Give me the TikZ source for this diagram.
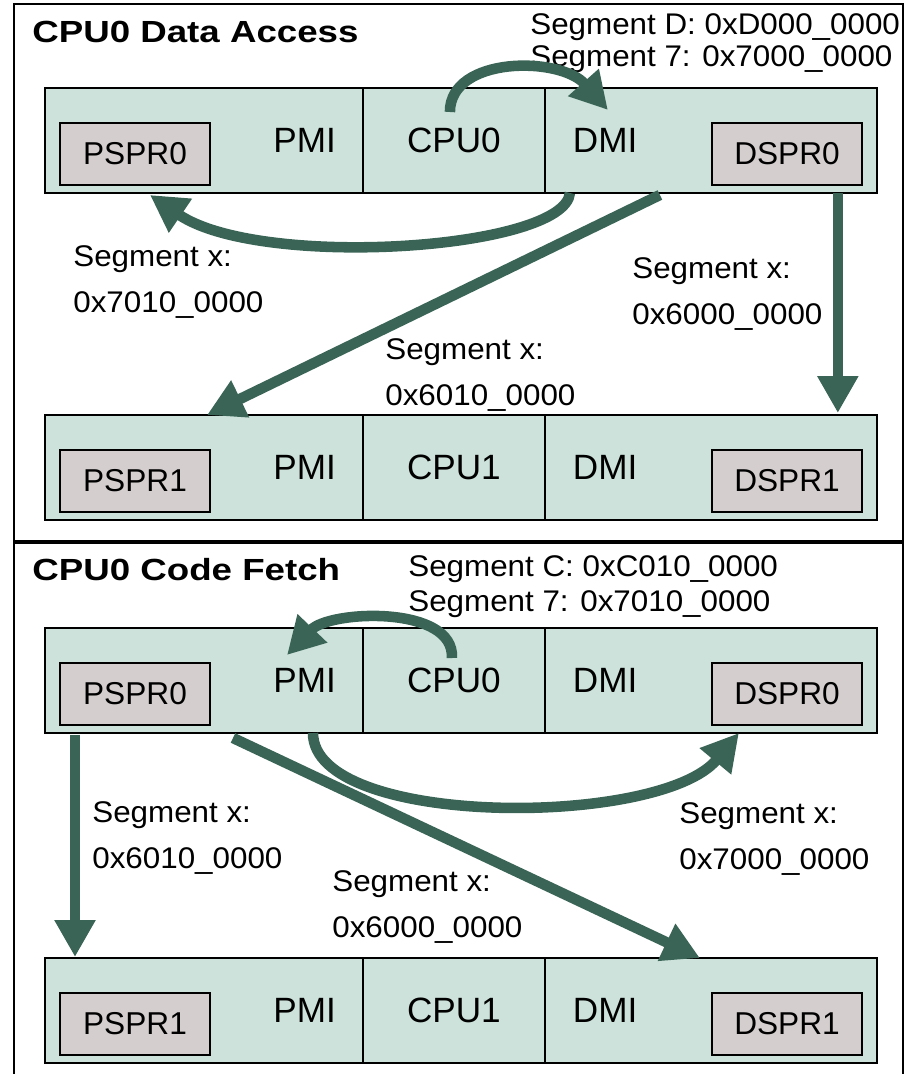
\documentclass[tikz,border=0pt]{standalone}
\usepackage{fontspec}
\setmainfont{Liberation Sans}
\newfontfamily\segfont{Liberation Sans}[FakeStretch=1.05]
\newfontfamily\headfont{Liberation Sans}[FakeStretch=1.2]
\usepackage{xcolor}
\usepackage{tikz}
\usetikzlibrary{arrows.meta, calc}

\definecolor{cellfill}{RGB}{204,226,218}
\definecolor{sprfill}{RGB}{212,206,206}
\definecolor{arrowgreen}{RGB}{58,101,86}

\begin{document}
\begin{tikzpicture}[x=0.02cm, y=-0.02cm,
    cell/.style={draw, line width=1.2pt, fill=cellfill, minimum height=2.1cm, inner ysep=0pt,
                 outer sep=0pt, anchor=north west, font=\fontsize{20}{24}\selectfont},
    pmicell/.style={cell, text width=5.28cm, inner xsep=0.54cm, align=right},
    cpucell/.style={cell, minimum width=3.64cm, inner xsep=0pt},
    dmicell/.style={cell, text width=5.52cm, inner xsep=0.56cm, align=left},
    spr/.style={draw, line width=1.1pt, fill=sprfill, minimum width=3cm, minimum height=1.24cm,
                inner sep=0pt, font=\fontsize{18}{22}\selectfont},
    paneltitle/.style={anchor=base west, inner sep=0pt, font=\headfont\bfseries\fontsize{17.4}{21}\selectfont},
    seglbl/.style={anchor=north west, inner sep=0pt, align=left, font=\segfont\fontsize{17}{26.2}\selectfont},
    arr/.style={-{Triangle[length=21pt, width=22pt]}, line width=6pt, draw=arrowgreen}
]
\useasboundingbox (0,0) rectangle (912,1074);

% Frame
\draw[line width=1.2pt] (14,1074) -- (14,4) -- (903,4) -- (903,1074);
\draw[line width=2.4pt] (14,542) -- (903,542);

% CPU0 data access
\node[paneltitle] (titleA) at (32,43) {CPU0 Data Access};
\node[seglbl] (segA) at (530,13) {Segment D: 0xD000\_0000\\[-8pt]Segment 7: 0x7000\_0000};

\node[pmicell] (pmiA) at (45,88) {PMI};
\node[cpucell] (cpuA) at (pmiA.north east) {CPU0};
\node[dmicell] (dmiA) at (cpuA.north east) {DMI};
\node[spr] (psprA) at (135,154) {PSPR0};
\node[spr] (dsprA) at (787,154) {DSPR0};

\node[pmicell] (pmiB) at (45,415) {PMI};
\node[cpucell] (cpuB) at (pmiB.north east) {CPU1};
\node[dmicell] (dmiB) at (cpuB.north east) {DMI};
\node[spr] (psprB) at (135,481) {PSPR1};
\node[spr] (dsprB) at (787,481) {DSPR1};

\node[seglbl] (lblA1) at (73,245) {Segment x:\\0x7010\_0000};
\node[seglbl] (lblA2) at (632,257) {Segment x:\\0x6000\_0000};
\node[seglbl] (lblA3) at (385,338) {Segment x:\\0x6010\_0000};

% CPU0 code fetch
\node[paneltitle] (titleC) at (32,580) {CPU0 Code Fetch};
\node[seglbl] (segC) at (408,555) {Segment C: 0xC010\_0000\\[-6.3pt]Segment 7: 0x7010\_0000};

\node[pmicell] (pmiC) at (45,628) {PMI};
\node[cpucell] (cpuC) at (pmiC.north east) {CPU0};
\node[dmicell] (dmiC) at (cpuC.north east) {DMI};
\node[spr] (psprC) at (135,694) {PSPR0};
\node[spr] (dsprC) at (787,694) {DSPR0};

\node[pmicell] (pmiD) at (45,958) {PMI};
\node[cpucell] (cpuD) at (pmiD.north east) {CPU1};
\node[dmicell] (dmiD) at (cpuD.north east) {DMI};
\node[spr] (psprD) at (135,1024) {PSPR1};
\node[spr] (dsprD) at (787,1024) {DSPR1};

\node[seglbl] (lblC1) at (92,801) {Segment x:\\0x6010\_0000};
\node[seglbl] (lblC2) at (332,870) {Segment x:\\0x6000\_0000};
\node[seglbl] (lblC3) at (679,802) {Segment x:\\0x7000\_0000};

% Accesses, data side
\draw[arr] ($(cpuA.north)+(-4,24)$) .. controls ($(cpuA.north)+(-4,-32)$) and ($(dmiA.north west)+(15,-32)$) .. ($(dmiA.north west)+(63,22)$);
\draw[arr] ($(dmiA.south west)+(25,0)$) .. controls ($(dmiA.south west)+(20,57)$) and ($(pmiA.south west)+(215,77)$) .. ($(pmiA.south west)+(105,2)$);
\draw[arr] ($(dmiA.south west)+(115,2)$) -- ($(pmiB.north west)+(162,0)$);
\draw[arr] ($(dmiA.south east)+(-39,0)$) -- ($(dmiB.north east)+(-39,-2)$);

% Accesses, code side
\draw[arr] ($(cpuC.north)+(-2,30)$) .. controls ($(cpuC.north)+(1,-23)$) and ($(pmiC.north west)+(285,-18)$) .. ($(pmiC.north west)+(242,27)$);
\draw[arr] ($(pmiC.south west)+(30,2)$) -- ($(pmiD.north west)+(30,-1)$);
\draw[arr] ($(pmiC.south west)+(188,5)$) -- ($(dmiD.north west)+(155,0)$);
\draw[arr] ($(pmiC.south west)+(268,0)$) .. controls ($(pmiC.south west)+(268,95)$) and ($(dmiC.south west)+(115,95)$) .. ($(dmiC.south west)+(194,0)$);
\end{tikzpicture}
\end{document}
